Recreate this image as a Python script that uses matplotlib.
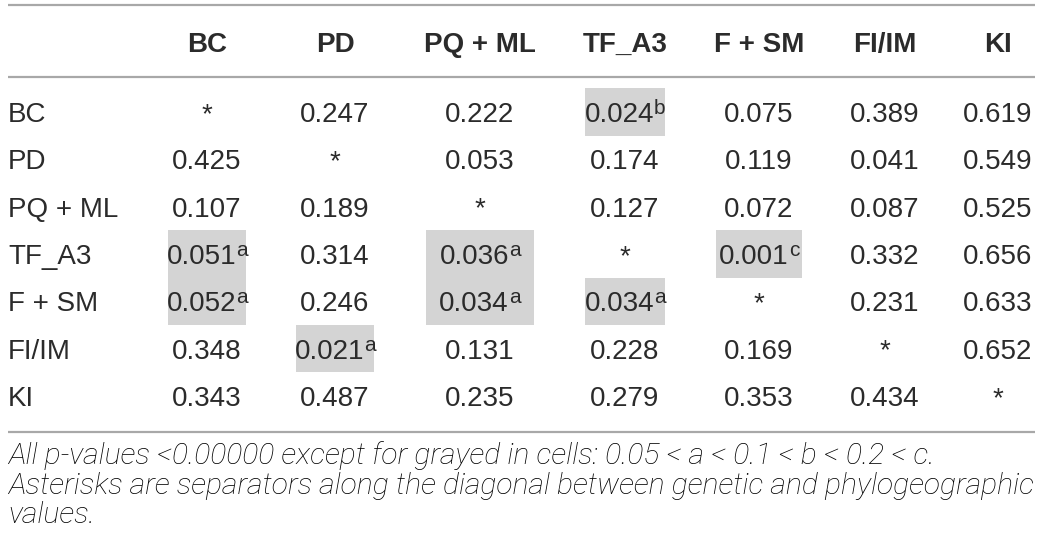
import matplotlib.pyplot as plt
from matplotlib.patches import Rectangle

# table content
labels = ["BC", "PD", "PQ + ML", "TF_A3", "F + SM", "FI/IM", "KI"]
values = [
    [None, 0.247, 0.222, 0.024, 0.075, 0.389, 0.619],
    [0.425, None, 0.053, 0.174, 0.119, 0.041, 0.549],
    [0.107, 0.189, None, 0.127, 0.072, 0.087, 0.525],
    [0.051, 0.314, 0.036, None, 0.001, 0.332, 0.656],
    [0.052, 0.246, 0.034, 0.034, None, 0.231, 0.633],
    [0.348, 0.021, 0.131, 0.228, 0.169, None, 0.652],
    [0.343, 0.487, 0.235, 0.279, 0.353, 0.434, None],
]
# grayed cells (row, col) -> p-value class
grayed = {(0, 3): "b", (3, 0): "a", (3, 2): "a", (3, 4): "c",
          (4, 0): "a", (4, 2): "a", (4, 3): "a", (5, 1): "a"}
footnote = [
    "All p-values <0.00000 except for grayed in cells: 0.05 < a < 0.1 < b < 0.2 < c.",
    "Asterisks are separators along the diagonal between genetic and phylogeographic",
    "values.",
]

FONT = "Liberation Sans"
NOTE_FONT = ["Roboto", "Liberation Sans"]
TXT = "#2b2b2b"
RULE = "#a8a8a8"
GRAY = "#d4d4d4"

W, H = 1042, 550
fig = plt.figure(figsize=(W / 100, H / 100), dpi=100)
ax = fig.add_axes([0, 0, 1, 1])
ax.set_xlim(0, W)
ax.set_ylim(H, 0)
ax.axis("off")
renderer = fig.canvas.get_renderer()

col_x = [207, 335, 480, 625, 759, 885, 998]
row_y = [112 + 47.33 * i for i in range(len(labels))]
left = 8


def width(t):
    return t.get_window_extent(renderer).width


def cell(cx, base, main, sup=None, bold=False):
    t = ax.text(0, base, main, family=FONT, fontsize=20, color=TXT,
                weight="bold" if bold else "normal", ha="left", va="baseline")
    w = width(t)
    total = w
    s = None
    if sup:
        s = ax.text(0, base - 8, sup, family=FONT, fontsize=15, color=TXT,
                    ha="left", va="baseline")
        total += width(s)
    x0 = cx - total / 2
    t.set_x(x0)
    if s is not None:
        s.set_x(x0 + w)
    return x0, x0 + total


ext = [[1e9, -1e9] for _ in labels]

# header
for j, lab in enumerate(labels):
    a, b = cell(col_x[j], 52, lab, bold=True)
    ext[j] = [min(ext[j][0], a), max(ext[j][1], b)]

# body
for i, lab in enumerate(labels):
    base = row_y[i] + 10
    ax.text(left, base, lab, family=FONT, fontsize=20, color=TXT,
            ha="left", va="baseline")
    for j, v in enumerate(values[i]):
        if v is None:
            cell(col_x[j], base, "*")
            continue
        a, b = cell(col_x[j], base, f"{v:.3f}", grayed.get((i, j)))
        ext[j] = [min(ext[j][0], a), max(ext[j][1], b)]

# grey shading behind flagged cells
for (i, j) in grayed:
    x0, x1 = ext[j][0] + 2, ext[j][1] - 2
    ax.add_patch(Rectangle((x0, row_y[i] - 23.7), x1 - x0, 47.4,
                           facecolor=GRAY, edgecolor="none", zorder=0))

# rules
for y in [5, 77, 432]:
    ax.plot([left, 1035], [y, y], color=RULE, lw=1.6, solid_capstyle="butt")

# footnote, sized so the long line fills the width
probe = ax.text(0, 0, footnote[1], family=NOTE_FONT, style="italic",
                weight="light", fontsize=20)
fs = 20 * 1027 / width(probe)
probe.remove()
for k, line in enumerate(footnote):
    ax.text(left, 464 + 29.5 * k, line, family=NOTE_FONT, style="italic",
            weight="light", fontsize=fs, color="#000000", ha="left",
            va="baseline")

fig.savefig("out.png", dpi=100)
